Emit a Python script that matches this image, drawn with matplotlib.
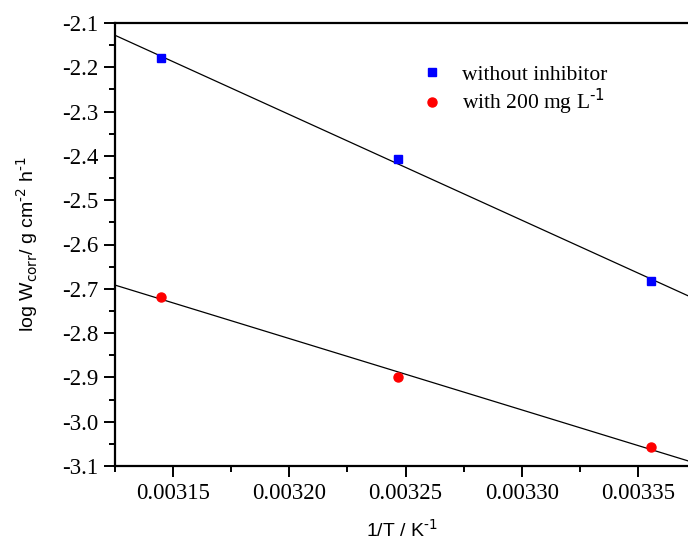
import numpy as np
import matplotlib.pyplot as plt
from matplotlib.ticker import MultipleLocator, FormatStrFormatter

plt.rcParams["axes.unicode_minus"] = False

# 1/T values (K^-1) and log Wcorr values
inv_t = [0.0031447, 0.0032468, 0.0033557]
log_w_blank = [-2.180, -2.408, -2.683]
log_w_inhib = [-2.718, -2.898, -3.058]

fig = plt.figure(figsize=(6.88, 5.44), dpi=100)
ax = fig.add_axes([115 / 688, 1 - 466 / 544, 1 - 115 / 688, (466 - 23) / 544])

xlim = (0.003125, 0.0033715)
xs = np.array(xlim)
for ys in (log_w_blank, log_w_inhib):
    k, b = np.polyfit(inv_t, ys, 1)
    ax.plot(xs, k * xs + b, color="black", lw=0.9, zorder=1)

ax.plot(inv_t, log_w_blank, "s", color="#0000ff", ms=6, ls="none", label="without inhibitor", zorder=3)
ax.plot(inv_t, log_w_inhib, "o", color="#ff0000", ms=6.5, ls="none",
        label="with 200 mg L$^{\\text{-1}}$", zorder=3)

ax.set_xlim(*xlim)
ax.set_ylim(-3.1, -2.1)

ax.xaxis.set_major_locator(MultipleLocator(0.00005))
ax.xaxis.set_minor_locator(MultipleLocator(0.000025))
ax.xaxis.set_major_formatter(FormatStrFormatter("%.5f"))
ax.yaxis.set_major_locator(MultipleLocator(0.1))
ax.yaxis.set_minor_locator(MultipleLocator(0.05))
ax.yaxis.set_major_formatter(FormatStrFormatter("%.1f"))

ax.spines["right"].set_visible(False)
for s in ("left", "bottom", "top"):
    ax.spines[s].set_linewidth(1.6)

ax.tick_params(which="both", direction="out", width=1.4, top=False, right=False,
               labelsize=16.5, pad=4)
ax.tick_params(which="major", length=8)
ax.tick_params(which="minor", length=4)
for lbl in ax.get_xticklabels() + ax.get_yticklabels():
    lbl.set_fontfamily("Liberation Serif")

ax.set_xlabel("1/T / K$^{\\text{-1}}$", fontsize=14, family="Liberation Sans", labelpad=11)
ax.set_ylabel("log W$_{\\text{corr}}$/ g cm$^{\\text{-2}}$ h$^{\\text{-1}}$",
              fontsize=14, family="Liberation Sans", labelpad=16)

leg = ax.legend(loc="upper left", bbox_to_anchor=(0.5, 0.95), frameon=False,
                prop={"family": "Liberation Serif", "size": 15.5},
                handletextpad=0.9, labelspacing=0.12, handlelength=1.0)

fig.savefig("out.png", dpi=100)
